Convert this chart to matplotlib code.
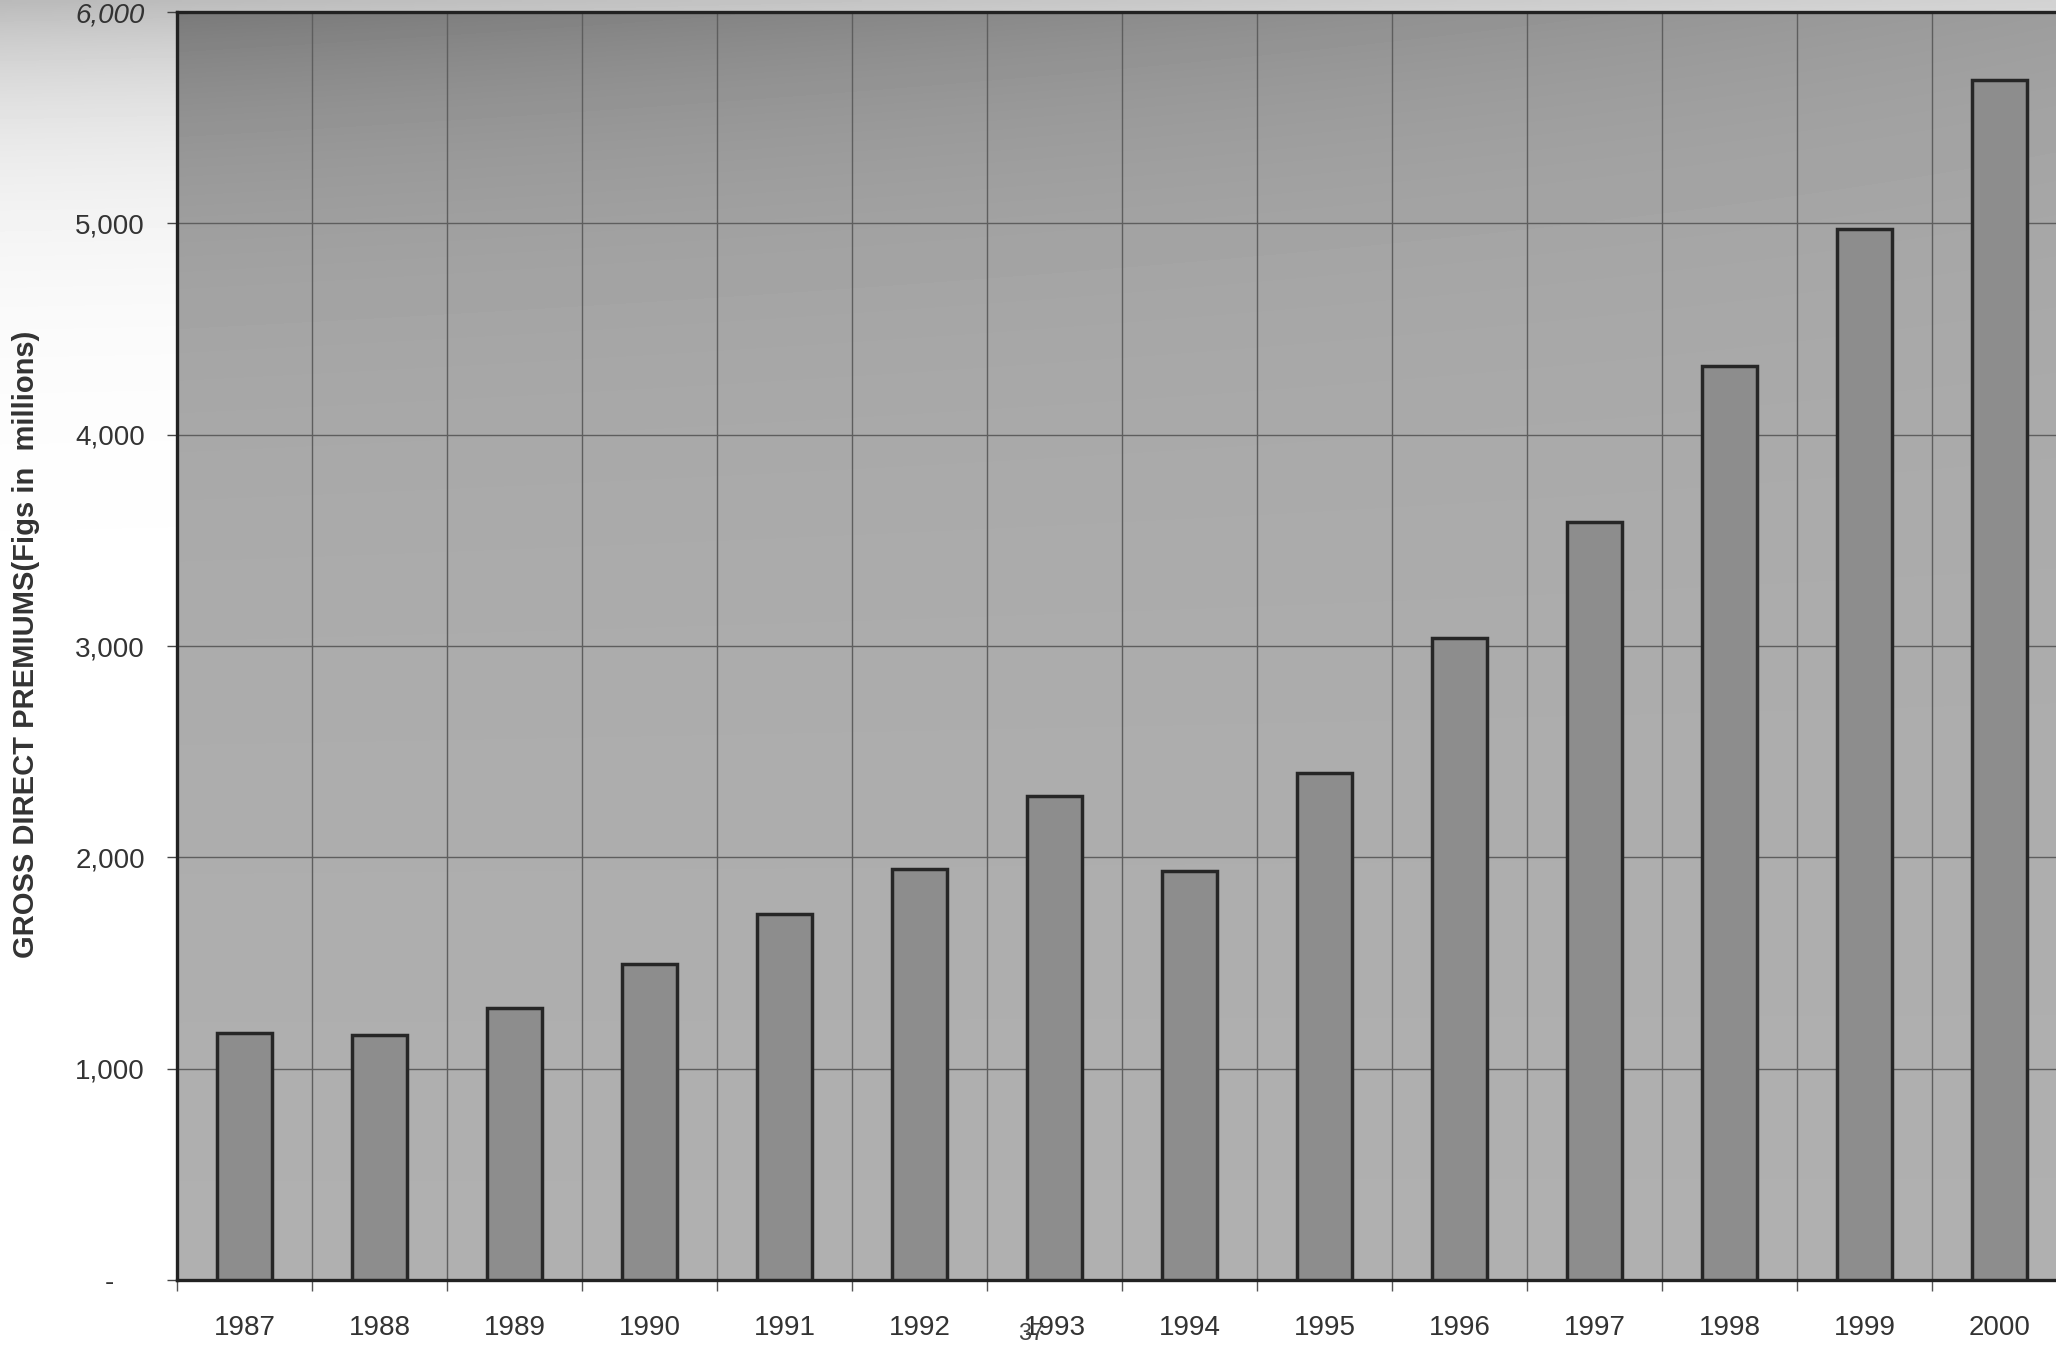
import numpy as np
import matplotlib
matplotlib.use("Agg")
import matplotlib.pyplot as plt
from matplotlib.ticker import FixedLocator, FixedFormatter

plt.rcParams['font.family'] = ['Liberation Sans', 'DejaVu Sans']

# Gross direct premiums by year (millions)
years = ['1987', '1988', '1989', '1990', '1991', '1992', '1993',
         '1994', '1995', '1996', '1997', '1998', '1999', '2000']
premiums = [1167, 1157, 1289, 1495, 1734, 1945, 2290,
            1935, 2399, 3037, 3588, 4323, 4975, 5680]
ytick_values = [0, 1000, 2000, 3000, 4000, 5000, 6000]
ytick_labels = ['-    ', '1,000', '2,000', '3,000', '4,000', '5,000', '6,000']
ylabel = 'GROSS DIRECT PREMIUMS(Figs in  millions)'

W, H, DPI = 2056, 1351, 100
fig = plt.figure(figsize=(W / DPI, H / DPI), dpi=DPI)

# Paper background: white with a grey shade along the top-left
bg = fig.add_axes([0, 0, 1, 1], zorder=-10)
yy, xx = np.mgrid[0:H:4, 0:W:4]
paper = 1 - 0.27 * np.exp(-yy / 125.0) * (1 - 0.35 * xx / W)
bg.imshow(paper, extent=[0, 1, 0, 1], aspect='auto', cmap='gray',
          vmin=0, vmax=1, origin='upper', interpolation='bilinear')
bg.axis('off')

n = len(years)
left_px, right_px, top_px, bottom_px = 177, 177 + 135 * n, 12, 1280
ax = fig.add_axes([left_px / W, 1 - bottom_px / H,
                   (right_px - left_px) / W, (bottom_px - top_px) / H])
ax.set_xlim(-0.5, n - 0.5)
ax.set_ylim(0, 6000)
ax.patch.set_alpha(0)

# Plot-area shading: darker toward the top-left
v, u = np.mgrid[1:0:-0.005, 0:1:0.005]
shade = 0.69 - 0.03 * v - 0.18 * np.exp(-(1 - v) / 0.12) * (1 - 0.75 * u)
ax.imshow(shade, extent=[-0.5, n - 0.5, 0, 6000], aspect='auto', cmap='gray',
          vmin=0, vmax=1, origin='upper', zorder=0, interpolation='bilinear')

x = np.arange(n)
ax.bar(x, premiums, width=0.41, color='#8d8d8d', edgecolor='#262626',
       linewidth=2.5, zorder=3)

# Grid: horizontal at value ticks, vertical at category boundaries
for yv in ytick_values[1:-1]:
    ax.axhline(yv, color='#5e5e5e', linewidth=1.0, zorder=1)
for b in np.arange(0.5, n - 0.5, 1.0):
    ax.axvline(b, color='#5e5e5e', linewidth=1.0, zorder=1)

for side in ['left', 'bottom', 'top']:
    ax.spines[side].set_color('#222222')
    ax.spines[side].set_linewidth(2.4)
ax.spines['right'].set_visible(False)

ax.yaxis.set_major_locator(FixedLocator(ytick_values))
ax.yaxis.set_major_formatter(FixedFormatter(ytick_labels))
ax.tick_params(axis='y', direction='out', length=7, width=1.0, color='#444444',
               pad=16, labelsize=20, labelcolor='#333333')
for lbl in ax.get_yticklabels():
    if lbl.get_text() == '6,000':
        lbl.set_fontstyle('italic')

ax.set_xticks(x)
ax.set_xticklabels(years)
ax.set_xticks(np.arange(-0.5, n, 1.0), minor=True)
ax.tick_params(axis='x', which='major', length=0, pad=25, labelsize=20,
               labelcolor='#333333')
ax.tick_params(axis='x', which='minor', direction='out', length=8, width=1.0,
               color='#555555')

fig.text(26 / W, 1 - 644 / H, ylabel, rotation=90, ha='center', va='center',
         fontsize=21, fontweight='bold', color='#333333')

# Page number
fig.text(1031 / W, 1 - 1334 / H, '37', ha='center', va='center',
         fontsize=17, color='#444444')

fig.savefig('out.png', dpi=DPI)
